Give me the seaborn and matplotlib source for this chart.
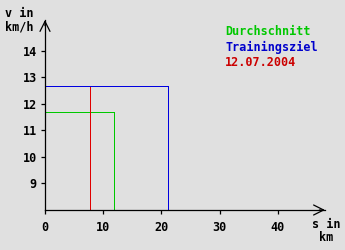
import matplotlib
matplotlib.use("Agg")
import matplotlib.pyplot as plt
import seaborn as sns
import pandas as pd

# data
series = ["Durchschnitt", "Trainingsziel", "12.07.2004"]
distance_km = [11.9, 21.2, 7.8]
speed_kmh = [11.7, 12.66, 12.66]
line_colors = ["#00c800", "#0000e0", "#e00000"]
text_colors = ["#00c800", "#0000cc", "#cc0000"]
x_ticks = [0, 10, 20, 30, 40]
y_ticks = [9, 10, 11, 12, 13, 14]
x_max = 48.1
y_min, y_max = 8, 15.15

sns.set_theme(style="white")
plt.rcParams["font.family"] = ["DejaVu Sans Mono"]
plt.rcParams["font.weight"] = "bold"
plt.rcParams["text.color"] = "black"

bg = "#e0e0e0"
W, H = 345, 250
fig = plt.figure(figsize=(3.45, 2.5), dpi=100, facecolor=bg)
ax = fig.add_axes([45 / W, 40 / H, 280 / W, 190 / H])
ax.set_facecolor(bg)

rows = []
for name, d, v in zip(series, distance_km, speed_kmh):
    for i, (xx, yy) in enumerate([(0, v), (d, v), (d, y_min)]):
        rows.append({"series": name, "x": xx, "y": yy, "order": i})
df = pd.DataFrame(rows)

draw_order = ["Durchschnitt", "12.07.2004", "Trainingsziel"]
for name in draw_order:
    idx = series.index(name)
    sub = df[df.series == name]
    sns.lineplot(data=sub, x="x", y="y", sort=False, estimator=None,
                 color=line_colors[idx], lw=0.72, ax=ax, legend=False,
                 antialiased=False)

ax.set_xlim(0, x_max)
ax.set_ylim(y_min, y_max)
ax.set_xticks(x_ticks)
ax.set_yticks(y_ticks)
ax.set_xlabel("")
ax.set_ylabel("")
for s in ["top", "right"]:
    ax.spines[s].set_visible(False)
for s in ["left", "bottom"]:
    ax.spines[s].set_color("black")
    ax.spines[s].set_linewidth(0.9)
ax.tick_params(axis="both", direction="out", length=3, width=0.9,
               colors="black", labelsize=8.5, bottom=True, left=True)
ax.tick_params(axis="y", pad=3)
ax.tick_params(axis="x", pad=5)
for lab in ax.get_xticklabels() + ax.get_yticklabels():
    lab.set_fontweight("bold")
    lab.set_color("black")

# arrows
ax.annotate("", xy=(0, 1.0), xytext=(0, 0.97), xycoords="axes fraction",
            arrowprops=dict(arrowstyle="->,head_length=0.6,head_width=0.3",
                            lw=0.9, color="black", shrinkA=0, shrinkB=0),
            annotation_clip=False)
ax.annotate("", xy=(1.0, 0), xytext=(0.98, 0), xycoords="axes fraction",
            arrowprops=dict(arrowstyle="->,head_length=0.6,head_width=0.3",
                            lw=0.9, color="black", shrinkA=0, shrinkB=0),
            annotation_clip=False)

# axis labels
def ftext(x, y, s, ha="left", color="black"):
    fig.text(x / W, 1 - y / H, s, ha=ha, va="baseline", fontsize=8.5,
             fontweight="bold", color=color)

ftext(19, 17, "v in", ha="center")
ftext(19, 31, "km/h", ha="center")
ftext(326, 228, "s in", ha="center")
ftext(326, 241, "km", ha="center")

# legend texts
for i, (name, c) in enumerate(zip(series, text_colors)):
    ftext(225, 35 + 15.5 * i, name, color=c)

fig.savefig("out.png", dpi=100, facecolor=bg)
